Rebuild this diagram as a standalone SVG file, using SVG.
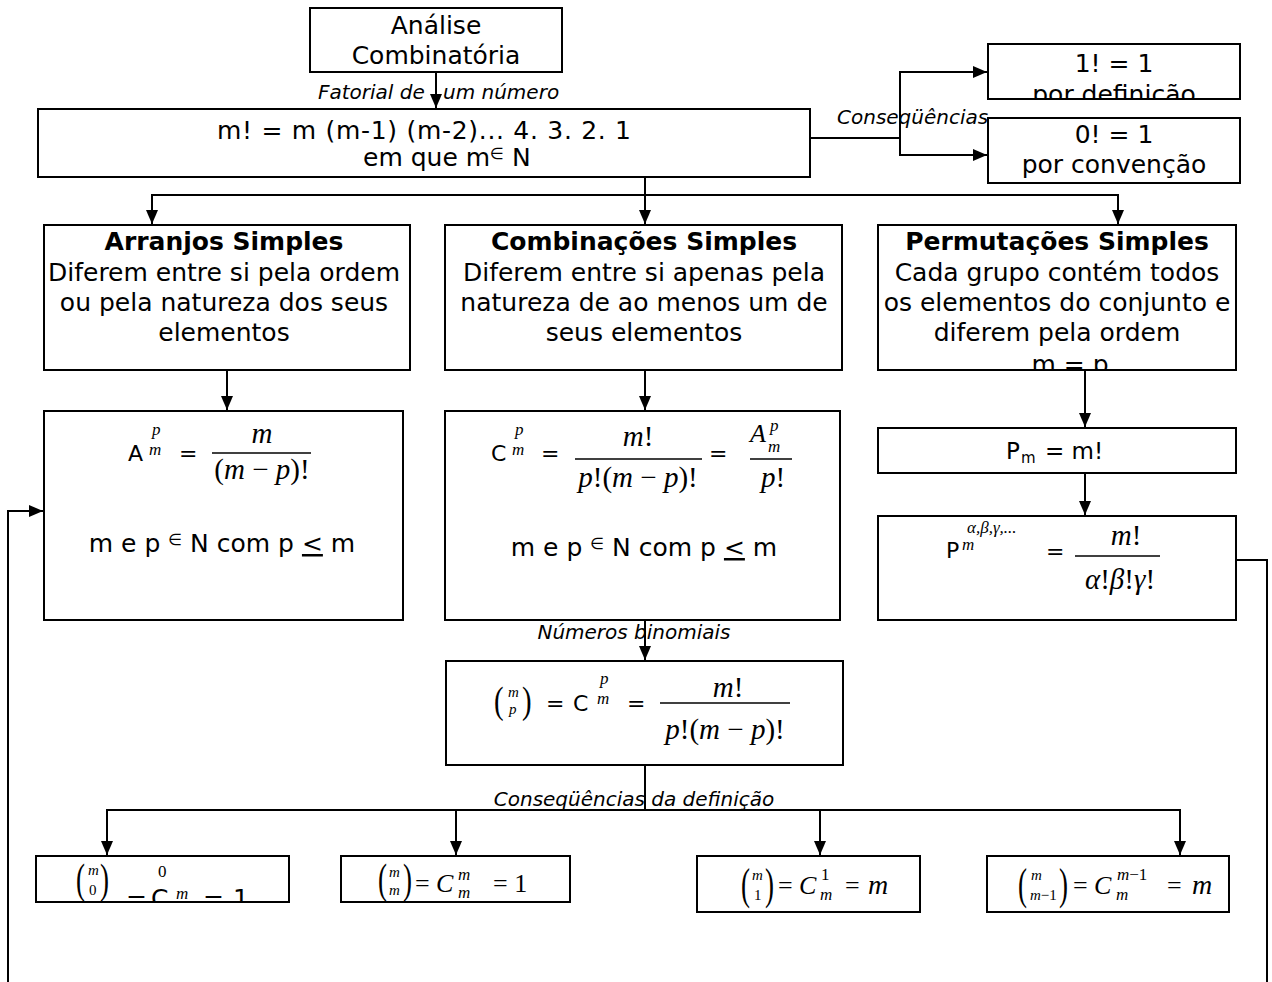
<svg xmlns="http://www.w3.org/2000/svg" width="1272" height="982" viewBox="0 0 1272 982">
  <defs>
    <marker id="arrow" markerUnits="userSpaceOnUse" markerWidth="14" markerHeight="12" refX="14" refY="6" orient="auto">
      <path d="M0,0 L14,6 L0,12 Z" fill="#000"/>
    </marker>
    <clipPath id="clip-def"><rect x="988" y="44" width="252" height="55"/></clipPath>
    <clipPath id="clip-perm"><rect x="878" y="225" width="358" height="145"/></clipPath>
    <clipPath id="clip-b1"><rect x="36" y="856" width="253" height="46"/></clipPath>
    <style>
      .box { fill: #fff; stroke: #000; stroke-width: 2; }
      .s { font-family: "DejaVu Sans", Verdana, sans-serif; fill: #000; }
      .c { text-anchor: middle; }
      .f25 { font-size: 25px; }
      .f22 { font-size: 22px; }
      .bold { font-weight: bold; }
      .lab { font-family: "DejaVu Sans", Verdana, sans-serif; font-style: italic; font-size: 20px; fill: #000; }
      .m { font-family: "Liberation Serif", "Times New Roman", serif; font-style: italic; fill: #000; }
      .r { font-style: normal; }
      .big { font-size: 29px; }
      .med { font-size: 26px; }
      .sm { font-size: 17px; }
      .xs { font-size: 15px; }
      .par { font-family: "Liberation Serif", "Times New Roman", serif; font-size: 36px; fill: #000; }
      .frac { stroke: #000; stroke-width: 1.3; }
      .conn { fill: none; stroke: #000; stroke-width: 2; }
    </style>
  </defs>

  <rect width="1272" height="982" fill="#fff"/>

  <!-- root -->
  <g id="analise">
    <rect class="box" x="310" y="8" width="252" height="64"/>
    <text class="s f25 c" x="436" y="34">Análise</text>
    <text class="s f25 c" x="436" y="64">Combinatória</text>
  </g>

  <!-- factorial definition -->
  <g id="fatorial">
    <rect class="box" x="38" y="109" width="772" height="68"/>
    <text class="s f25 c" x="424" y="139" textLength="414" lengthAdjust="spacing">m! = m (m-1) (m-2)... 4. 3. 2. 1</text>
    <text class="s f25" x="363" y="166">em que m<tspan font-size="16" dy="-7">∈</tspan><tspan dy="7"> N</tspan></text>
  </g>

  <g id="um-fatorial">
    <rect class="box" x="988" y="44" width="252" height="55"/>
    <g clip-path="url(#clip-def)">
      <text class="s f25 c" x="1114" y="72">1! = 1</text>
      <text class="s f25 c" x="1114" y="103">por definição</text>
    </g>
  </g>

  <g id="zero-fatorial">
    <rect class="box" x="988" y="118" width="252" height="65"/>
    <text class="s f25 c" x="1114" y="143">0! = 1</text>
    <text class="s f25 c" x="1114" y="173">por convenção</text>
  </g>

  <!-- the three kinds of grouping -->
  <g id="arranjos">
    <rect class="box" x="44" y="225" width="366" height="145"/>
    <text class="s f25 c bold" x="224" y="250">Arranjos Simples</text>
    <text class="s f25 c" x="224" y="281">Diferem entre si pela ordem</text>
    <text class="s f25 c" x="224" y="311">ou pela natureza dos seus</text>
    <text class="s f25 c" x="224" y="341">elementos</text>
  </g>

  <g id="combinacoes">
    <rect class="box" x="445" y="225" width="397" height="145"/>
    <text class="s f25 c bold" x="644" y="250">Combinações Simples</text>
    <text class="s f25 c" x="644" y="281">Diferem entre si apenas pela</text>
    <text class="s f25 c" x="644" y="311">natureza de ao menos um de</text>
    <text class="s f25 c" x="644" y="341">seus elementos</text>
  </g>

  <g id="permutacoes">
    <rect class="box" x="878" y="225" width="358" height="145"/>
    <g clip-path="url(#clip-perm)">
      <text class="s f25 c bold" x="1057" y="250">Permutações Simples</text>
      <text class="s f25 c" x="1057" y="281">Cada grupo contém todos</text>
      <text class="s f25 c" x="1057" y="311">os elementos do conjunto e</text>
      <text class="s f25 c" x="1057" y="341">diferem pela ordem</text>
      <text class="s f25 c" x="1070" y="373">m = p</text>
    </g>
  </g>

  <!-- arrangements formula -->
  <g id="formula-arranjos">
    <rect class="box" x="44" y="411" width="359" height="209"/>
    <text class="s f22" x="128" y="461">A</text>
    <text class="m sm" x="152" y="435">p</text>
    <text class="m sm" x="149" y="455">m</text>
    <text class="s f22" x="179" y="461">=</text>
    <text class="m big c" x="262" y="443">m</text>
    <line class="frac" x1="212" y1="453" x2="311" y2="453"/>
    <text class="m big c" x="262" y="479"><tspan class="r">(</tspan>m<tspan class="r"> − </tspan>p<tspan class="r">)!</tspan></text>
    <text class="s f25 c" x="222" y="552">m e p <tspan font-size="16" dy="-7">∈</tspan><tspan dy="7">  N com p </tspan><tspan text-decoration="underline">&lt;</tspan> m</text>
  </g>

  <!-- combinations formula -->
  <g id="formula-combinacoes">
    <rect class="box" x="445" y="411" width="395" height="209"/>
    <text class="s f22" x="491" y="461">C</text>
    <text class="m sm" x="515" y="435">p</text>
    <text class="m sm" x="512" y="455">m</text>
    <text class="s f22" x="541" y="461">=</text>
    <text class="m big c" x="638" y="446">m<tspan class="r">!</tspan></text>
    <line class="frac" x1="575" y1="459" x2="702" y2="459"/>
    <text class="m big c" x="638" y="487">p<tspan class="r">!(</tspan>m<tspan class="r"> − </tspan>p<tspan class="r">)!</tspan></text>
    <text class="s f22" x="709" y="461">=</text>
    <text class="m med" x="750" y="442">A</text>
    <text class="m sm" x="770" y="431">p</text>
    <text class="m sm" x="768" y="452">m</text>
    <line class="frac" x1="750" y1="459" x2="792" y2="459"/>
    <text class="m big c" x="773" y="487">p<tspan class="r">!</tspan></text>
    <text class="s f25 c" x="644" y="556">m e p <tspan font-size="16" dy="-7">∈</tspan><tspan dy="7">  N com p </tspan><tspan text-decoration="underline">&lt;</tspan> m</text>
  </g>

  <!-- permutations formulas -->
  <g id="formula-permutacoes">
    <rect class="box" x="878" y="428" width="358" height="45"/>
    <text class="s" font-size="23" x="1006" y="459">P</text>
    <text class="s" font-size="15" x="1021" y="463">m</text>
    <text class="s" font-size="23" x="1045" y="459">= m!</text>
  </g>

  <g id="formula-repeticao">
    <rect class="box" x="878" y="516" width="358" height="104"/>
    <text class="s f22" x="946" y="558">P</text>
    <text class="m" font-size="17" x="962" y="550">m</text>
    <text class="m sm" x="967" y="533">α,β,γ,...</text>
    <text class="s f22" x="1046" y="559">=</text>
    <text class="m big c" x="1126" y="545">m<tspan class="r">!</tspan></text>
    <line class="frac" x1="1075" y1="556" x2="1160" y2="556"/>
    <text class="m big c" x="1120" y="589">α<tspan class="r">!</tspan>β<tspan class="r">!</tspan>γ<tspan class="r">!</tspan></text>
  </g>

  <!-- binomial numbers -->
  <g id="binomial">
    <rect class="box" x="446" y="661" width="397" height="104"/>
    <text class="par" transform="translate(494,713) scale(0.8,1.05)">(</text>
    <text class="m xs" x="508" y="697">m</text>
    <text class="m xs" x="509" y="714">p</text>
    <text class="par" transform="translate(522,713) scale(0.8,1.05)">)</text>
    <text class="s f22" x="546" y="711">=</text>
    <text class="s f22" x="573" y="711">C</text>
    <text class="m sm" x="600" y="684">p</text>
    <text class="m sm" x="597" y="704">m</text>
    <text class="s f22" x="627" y="711">=</text>
    <text class="m big c" x="728" y="697">m<tspan class="r">!</tspan></text>
    <line class="frac" x1="660" y1="703" x2="790" y2="703"/>
    <text class="m big c" x="725" y="739">p<tspan class="r">!(</tspan>m<tspan class="r"> − </tspan>p<tspan class="r">)!</tspan></text>
  </g>

  <!-- consequences of the definition -->
  <g id="binomial-zero">
    <rect class="box" x="36" y="856" width="253" height="46"/>
    <g clip-path="url(#clip-b1)">
      <text class="par" transform="translate(76,893) scale(0.75,1.2)">(</text>
      <text class="m xs" x="88" y="875">m</text>
      <text class="m xs r" x="89" y="895">0</text>
      <text class="par" transform="translate(100,893) scale(0.75,1.2)">)</text>
      <text class="m sm r" x="158" y="877">0</text>
      <text class="s f25" x="126" y="907">=</text>
      <text class="s f25" x="151" y="907">C</text>
      <text class="m sm" x="176" y="899">m</text>
      <text class="s f25" x="203" y="907">=</text>
      <text class="s f25" x="233" y="907">1</text>
    </g>
  </g>

  <g id="binomial-m">
    <rect class="box" x="341" y="856" width="229" height="46"/>
    <text class="par" transform="translate(378,893) scale(0.75,1.2)">(</text>
    <text class="m xs" x="389" y="877">m</text>
    <text class="m xs" x="389" y="895">m</text>
    <text class="par" transform="translate(403,893) scale(0.75,1.2)">)</text>
    <text class="m r med" x="415" y="892">=</text>
    <text class="m med" x="436" y="892">C</text>
    <text class="m sm" x="458" y="880">m</text>
    <text class="m sm" x="458" y="898">m</text>
    <text class="m r med" x="493" y="892">= 1</text>
  </g>

  <g id="binomial-um">
    <rect class="box" x="697" y="856" width="223" height="56"/>
    <text class="par" transform="translate(741,899) scale(0.75,1.25)">(</text>
    <text class="m xs" x="752" y="880">m</text>
    <text class="m xs r" x="754" y="900">1</text>
    <text class="par" transform="translate(765,899) scale(0.75,1.25)">)</text>
    <text class="m r med" x="778" y="894">=</text>
    <text class="m med" x="799" y="894">C</text>
    <text class="m sm r" x="821" y="880">1</text>
    <text class="m sm" x="820" y="900">m</text>
    <text class="m r med" x="845" y="894">=</text>
    <text class="m" font-size="28" x="868" y="894">m</text>
  </g>

  <g id="binomial-m-menos-um">
    <rect class="box" x="987" y="856" width="242" height="56"/>
    <text class="par" transform="translate(1018,899) scale(0.75,1.25)">(</text>
    <text class="m xs" x="1031" y="880">m</text>
    <text class="m xs" x="1030" y="900">m<tspan class="r">−1</tspan></text>
    <text class="par" transform="translate(1059,899) scale(0.75,1.25)">)</text>
    <text class="m r med" x="1073" y="894">=</text>
    <text class="m med" x="1094" y="894">C</text>
    <text class="m sm" x="1117" y="880">m<tspan class="r">−1</tspan></text>
    <text class="m sm" x="1116" y="900">m</text>
    <text class="m r med" x="1167" y="894">=</text>
    <text class="m" font-size="28" x="1192" y="894">m</text>
  </g>

  <!-- connectors and their labels -->
  <g id="connectors">
    <path class="conn" d="M436,72 V108" marker-end="url(#arrow)"/>
    <path class="conn" d="M810,138 H900"/>
    <path class="conn" d="M900,138 V72 H987" marker-end="url(#arrow)"/>
    <path class="conn" d="M900,138 V155 H987" marker-end="url(#arrow)"/>
    <path class="conn" d="M645,177 V195"/>
    <path class="conn" d="M645,195 H152 V224" marker-end="url(#arrow)"/>
    <path class="conn" d="M645,195 V224" marker-end="url(#arrow)"/>
    <path class="conn" d="M645,195 H1118 V224" marker-end="url(#arrow)"/>
    <path class="conn" d="M227,370 V410" marker-end="url(#arrow)"/>
    <path class="conn" d="M645,370 V410" marker-end="url(#arrow)"/>
    <path class="conn" d="M1085,370 V427" marker-end="url(#arrow)"/>
    <path class="conn" d="M1085,473 V515" marker-end="url(#arrow)"/>
    <path class="conn" d="M645,620 V660" marker-end="url(#arrow)"/>
    <path class="conn" d="M645,765 V810"/>
    <path class="conn" d="M645,810 H107 V855" marker-end="url(#arrow)"/>
    <path class="conn" d="M456,810 V855" marker-end="url(#arrow)"/>
    <path class="conn" d="M820,810 V855" marker-end="url(#arrow)"/>
    <path class="conn" d="M645,810 H1180 V855" marker-end="url(#arrow)"/>
    <path class="conn" d="M8,982 V511 H43" marker-end="url(#arrow)"/>
    <path class="conn" d="M1236,560 H1267 V982"/>

    <text class="lab" font-size="21" x="318" y="99">Fatorial de<tspan x="443">um número</tspan></text>
    <text class="lab" x="837" y="124">Conseqüências</text>
    <text class="lab c" x="634" y="639">Números binomiais</text>
    <text class="lab c" x="634" y="806">Conseqüências da definição</text>
  </g>
</svg>
